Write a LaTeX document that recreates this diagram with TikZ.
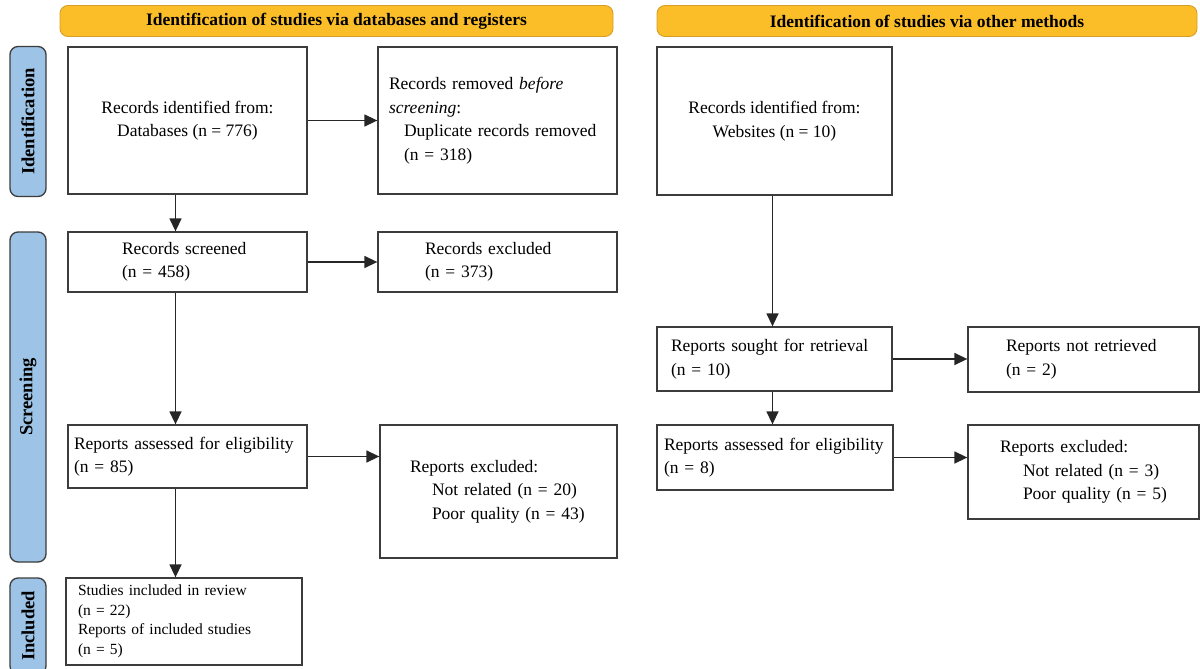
\documentclass[tikz,border=0pt]{standalone}
\usepackage{fontspec}
\setmainfont{Liberation Serif}
\usepackage{xcolor}
\usetikzlibrary{arrows.meta}
\definecolor{headfill}{RGB}{251,190,40}
\definecolor{headline}{RGB}{214,160,40}
\definecolor{phasefill}{RGB}{157,195,230}
\definecolor{boxline}{RGB}{60,60,60}

\begin{document}
	\begin{tikzpicture}[x=1pt, y=-1pt,
		box/.style={draw=boxline, line width=1.3pt, inner ysep=0pt, font=\fontsize{17.5}{23.5}\selectfont},
		head/.style={draw=headline, fill=headfill, line width=0.9pt, rounded corners=8pt, minimum height=31pt, inner sep=0pt, font=\fontsize{17.5}{18}\selectfont\bfseries},
		phase/.style={draw=boxline, fill=phasefill, line width=1.3pt, rounded corners=8pt, rotate=90, minimum height=36pt, inner sep=0pt, font=\fontsize{18.5}{18}\selectfont\bfseries},
		arr/.style={-{Triangle[length=13pt, width=12pt]}, line width=1.4pt, draw=black!85}]
		\clip (0,0) rectangle (1200,669);
		\node [head, minimum width=553pt] (h1) at (336.5,21) {Identification of studies via databases and registers};
		\node [head, minimum width=540pt] (h2) at (927,21) {Identification of studies via other methods};
		\node [phase, minimum width=150pt] (p1) at (28,121.5) {Identification};
		\node [phase, minimum width=330pt] (p2) at (28,397) {Screening};
		\node [phase, minimum width=96pt] (p3) at (28,626) {Included};
		\node [box, align=center, minimum width=239pt, minimum height=147pt] (1) at (187.5,120.5) {Records identified from:\\Databases (n = 776)};
		\node [box, align=left, inner xsep=11pt, text width=217pt, minimum height=147pt] (2) at (497.5,120.5) {Records removed \textit{before}\\\textit{screening}:\\\hspace*{15pt}Duplicate records removed\\\hspace*{15pt}(n = 318)};
		\node [box, align=left, inner xsep=54pt, text width=131pt, minimum height=60pt] (3) at (187.5,262) {Records screened\\(n = 458)};
		\node [box, align=left, inner xsep=47pt, text width=145pt, minimum height=60pt] (4) at (497.5,262) {Records excluded\\(n = 373)};
		\node [box, align=left, inner xsep=6pt, text width=227pt, minimum height=63pt] (5) at (187.5,456.5) {Reports assessed for eligibility\\(n = 85)};
		\node [box, align=left, inner xsep=30pt, text width=177pt, minimum height=133pt] (6) at (498.5,491.5) {Reports excluded:\\\hspace*{22pt}Not related (n = 20)\\\hspace*{22pt}Poor quality (n = 43)};
		\node [box, align=left, inner xsep=12pt, text width=212pt, minimum height=87pt, font=\fontsize{15.5}{19.5}\selectfont] (7) at (184,621.5) {Studies included in review\\(n = 22)\\Reports of included studies\\(n = 5)};
		\node [box, align=center, minimum width=235pt, minimum height=148pt] (8) at (774.5,121) {Records identified from:\\Websites (n = 10)};
		\node [box, align=left, inner xsep=14pt, text width=207pt, minimum height=64pt] (9) at (774.5,359) {Reports sought for retrieval\\(n = 10)};
		\node [box, align=left, inner xsep=38pt, text width=155pt, minimum height=65pt] (10) at (1083.5,359.5) {Reports not retrieved\\(n = 2)};
		\node [box, align=left, inner xsep=32pt, text width=167pt, minimum height=94pt] (12) at (1083.5,472) {Reports excluded:\\\hspace*{23pt}\mbox{Not related (n = 3)}\\\hspace*{23pt}\mbox{Poor quality (n = 5)}};
		\node [box, align=left, inner xsep=7pt, text width=222pt, minimum height=65pt] (11) at (775,457.5) {Reports assessed for eligibility\\(n = 8)};
		\draw [arr] (1.east) -- (1.east -| 2.west);
		\draw [arr] ([xshift=-12pt]1.south) -- ([xshift=-12pt]1.south |- 3.north);
		\draw [arr] (3.east) -- (3.east -| 4.west);
		\draw [arr] ([xshift=-12pt]3.south) -- ([xshift=-12pt]3.south |- 5.north);
		\draw [arr] (5.east) -- (5.east -| 6.west);
		\draw [arr] ([xshift=-12pt]5.south) -- ([xshift=-12pt]5.south |- 7.north);
		\draw [arr] ([xshift=-2pt]8.south) -- ([xshift=-2pt]8.south |- 9.north);
		\draw [arr] (9.east) -- (9.east -| 10.west);
		\draw [arr] ([xshift=-2pt]9.south) -- ([xshift=-2pt]9.south |- 11.north);
		\draw [arr] (11.east) -- (11.east -| 12.west);
	\end{tikzpicture}
\end{document}
